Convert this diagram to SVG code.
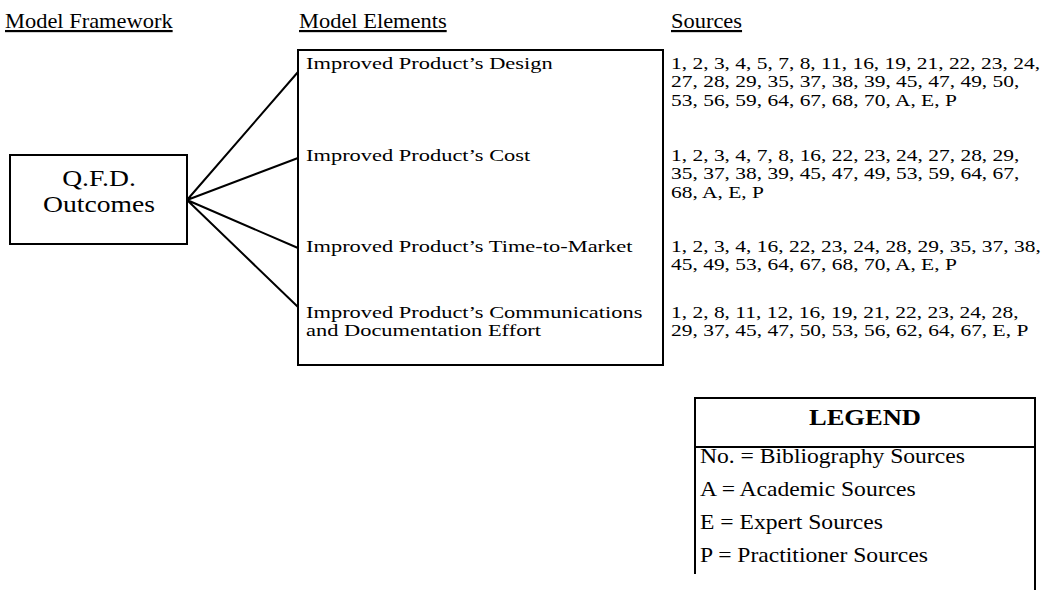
<svg xmlns="http://www.w3.org/2000/svg" width="1053" height="590" viewBox="0 0 1053 590">
<style>
text{font-family:"Liberation Serif","Times New Roman",serif;fill:#000}
.hd{font-size:22px;text-decoration:underline}
.el{font-size:16.5px}
.src{font-size:16.5px}
.lg{font-size:20px}
.lgh{font-size:22.5px;font-weight:bold}
.q{font-size:24px}
.box{fill:#fff;stroke:#000;stroke-width:2}
.ln{fill:none;stroke:#000;stroke-width:2}
</style>
<rect width="1053" height="590" fill="#fff"/>
<g id="headers">
<g transform="translate(5,0) scale(1.02,1)"><text class="hd" x="0" y="28">Model Framework</text></g>
<g transform="translate(299,0) scale(1.02,1)"><text class="hd" x="0" y="28">Model Elements</text></g>
<g transform="translate(671,0) scale(1.02,1)"><text class="hd" x="0" y="28">Sources</text></g>
</g>
<g id="connectors">
<path class="ln" d="M187,200 L298,72 M187,200 L298,158 M187,200 L298,248 M187,200 L298,307"/>
</g>
<g id="qfd">
<rect class="box" x="10" y="155" width="177" height="89"/>
<g transform="translate(99,0) scale(1.15,1)">
<text class="q" x="0" y="186" text-anchor="middle">Q.F.D.</text>
<text class="q" x="0" y="212" text-anchor="middle">Outcomes</text>
</g>
</g>
<g id="elements">
<rect class="box" x="298" y="50" width="365" height="315"/>
<g transform="translate(306,0) scale(1.36,1)">
<text class="el" x="0" y="69">Improved Product’s Design</text>
<text class="el" x="0" y="161">Improved Product’s Cost</text>
<text class="el" x="0" y="252">Improved Product’s Time-to-Market</text>
<text class="el" x="0" y="318">Improved Product’s Communications</text>
<text class="el" x="0" y="336.3">and Documentation Effort</text>
</g>
</g>
<g id="sources">
<g transform="translate(671,0) scale(1.3,1)">
<text class="src" x="0" y="69">1, 2, 3, 4, 5, 7, 8, 11, 16, 19, 21, 22, 23, 24,</text>
<text class="src" x="0" y="87.3">27, 28, 29, 35, 37, 38, 39, 45, 47, 49, 50,</text>
<text class="src" x="0" y="105.6">53, 56, 59, 64, 67, 68, 70, A, E, P</text>
<text class="src" x="0" y="161">1, 2, 3, 4, 7, 8, 16, 22, 23, 24, 27, 28, 29,</text>
<text class="src" x="0" y="179.3">35, 37, 38, 39, 45, 47, 49, 53, 59, 64, 67,</text>
<text class="src" x="0" y="197.6">68, A, E, P</text>
<text class="src" x="0" y="252">1, 2, 3, 4, 16, 22, 23, 24, 28, 29, 35, 37, 38,</text>
<text class="src" x="0" y="270.3">45, 49, 53, 64, 67, 68, 70, A, E, P</text>
<text class="src" x="0" y="318">1, 2, 8, 11, 12, 16, 19, 21, 22, 23, 24, 28,</text>
<text class="src" x="0" y="336.3">29, 37, 45, 47, 50, 53, 56, 62, 64, 67, E, P</text>
</g>
</g>
<g id="legend">
<path class="ln" d="M695,574 V398 H1035 V590 M695,447 H1035"/>
<g transform="translate(865,0) scale(1.18,1)"><text class="lgh" x="0" y="425" text-anchor="middle">LEGEND</text></g>
<g transform="translate(700,0) scale(1.18,1)">
<text class="lg" x="0" y="463">No. = Bibliography Sources</text>
<text class="lg" x="0" y="496">A = Academic Sources</text>
<text class="lg" x="0" y="529">E = Expert Sources</text>
<text class="lg" x="0" y="562">P = Practitioner Sources</text>
</g>
</g>
</svg>
